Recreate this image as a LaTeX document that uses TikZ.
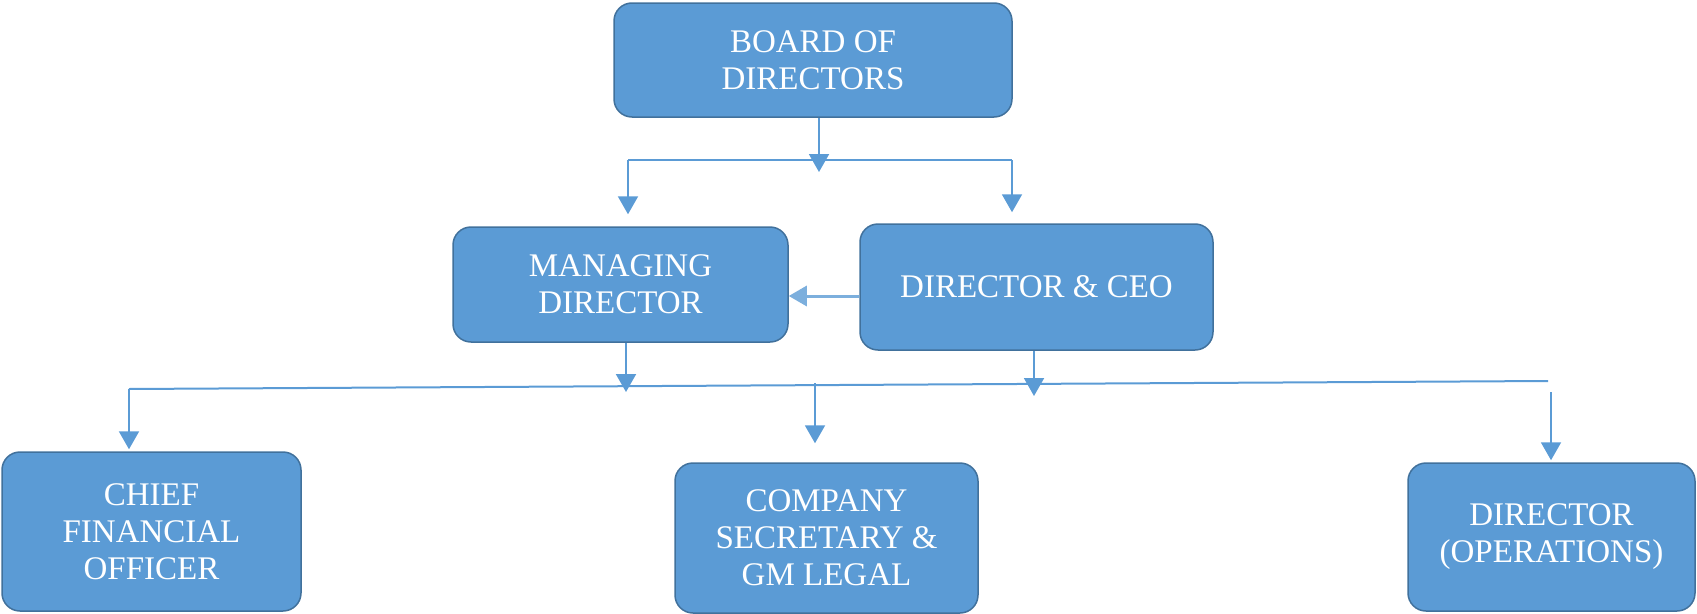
\documentclass[tikz,border=0pt]{standalone}
\usepackage{fontspec}
\setmainfont{Liberation Serif}
\usetikzlibrary{arrows.meta}
\definecolor{boxblue}{HTML}{5B9BD5}
\definecolor{boxedge}{HTML}{41719C}
\definecolor{linkblue}{HTML}{5B9BD5}
\tikzset{
  post/.style={draw=boxedge,line width=1.5pt,fill=boxblue,rounded corners=18pt,
    text=white,align=center,inner sep=0pt,font=\fontsize{33}{37}\selectfont},
  link/.style={draw=linkblue,line width=2pt},
  linkarr/.style={link,-{Triangle[width=20pt,length=18pt]}}
}

\begin{document}
\begin{tikzpicture}[x=1pt,y=-1pt]
\useasboundingbox (0,0) rectangle (1697,613);
\node[post,minimum width=398pt,minimum height=114pt] (board) at (813,60) {BOARD OF\\DIRECTORS};
\node[post,minimum width=335pt,minimum height=115pt] (md) at (620.5,284.5) {MANAGING\\DIRECTOR};
\node[post,minimum width=353pt,minimum height=126pt] (ceo) at (1036.5,287) {DIRECTOR \& CEO};
\node[post,minimum width=299pt,minimum height=159pt] (cfo) at (151.5,531.5) {CHIEF\\FINANCIAL\\OFFICER};
\node[post,minimum width=303pt,minimum height=150pt] (cs) at (826.5,538) {COMPANY\\SECRETARY \&\\GM LEGAL};
\node[post,minimum width=287pt,minimum height=148pt] (dops) at (1551.5,537) {DIRECTOR\\(OPERATIONS)};

\coordinate (btip) at (819,172);
\coordinate (ul) at (628,160);
\coordinate (ur) at (1012,160);
\draw[linkarr] (board.south -| btip) -- (btip);
\draw[link] (ul) -- (ur);
\draw[linkarr,shorten >=12pt] (ul) -- (ul |- md.north);
\draw[linkarr,shorten >=11pt] (ur) -- (ur |- ceo.north);

\draw[linkarr,line width=3pt,draw=linkblue!80] ([yshift=-9pt]ceo.west) -- ([yshift=-9pt]ceo.west -| md.east);

\coordinate (mdtip) at (626,392);
\coordinate (ceotip) at (1034,396);
\draw[linkarr] (md.south -| mdtip) -- (mdtip);
\draw[linkarr] (ceo.south -| ceotip) -- (ceotip);

\coordinate (ll) at (129,389);
\coordinate (lr) at (1548,381);
\coordinate (cstop) at (815,383);
\coordinate (dotop) at (1551,392);
\draw[link] (ll) -- (lr);
\draw[linkarr,shorten >=19pt] (cstop) -- (cstop |- cs.north);
\draw[linkarr,shorten >=2pt] (ll) -- (ll |- cfo.north);
\draw[linkarr,shorten >=2pt] (dotop) -- (dotop |- dops.north);
\end{tikzpicture}
\end{document}
